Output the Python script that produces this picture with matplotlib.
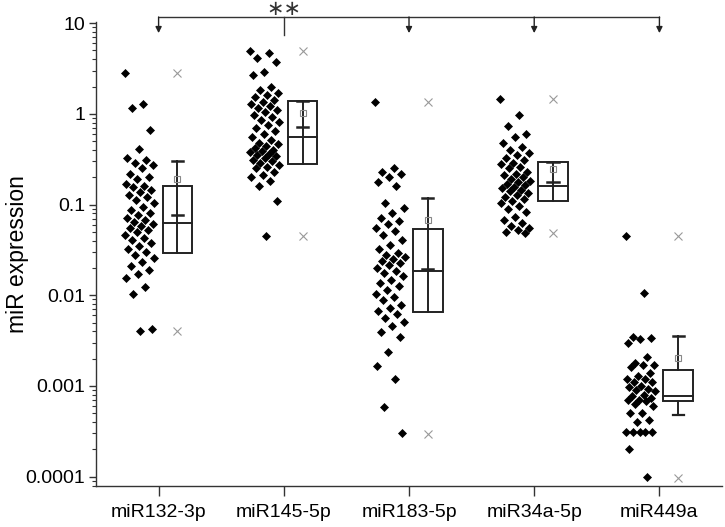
import numpy as np
import matplotlib
matplotlib.use('Agg')
import matplotlib.pyplot as plt
import matplotlib.transforms as mtransforms
from matplotlib.patches import Rectangle
from matplotlib.ticker import FixedLocator, LogLocator, NullFormatter

plt.rcParams['font.family'] = ['Liberation Sans', 'DejaVu Sans']

"""data"""
groups = ['miR132-3p', 'miR145-5p', 'miR183-5p', 'miR34a-5p', 'miR449a']

mir132 = [2.8, 1.28, 1.16, 0.66, 0.41, 0.33, 0.31, 0.29, 0.27, 0.25, 0.22, 0.20,
          0.19, 0.17, 0.16, 0.156, 0.145, 0.138, 0.128, 0.121, 0.112, 0.104, 0.094,
          0.087, 0.081, 0.077, 0.071, 0.068, 0.064, 0.061, 0.058, 0.055, 0.052, 0.050,
          0.046, 0.043, 0.041, 0.038, 0.035, 0.032, 0.030, 0.028, 0.026, 0.023, 0.021,
          0.019, 0.017, 0.0156, 0.0124, 0.0104, 0.0042, 0.0040]
mir145 = [4.9, 4.7, 4.1, 3.7, 2.9, 2.7, 1.97, 1.83, 1.69, 1.61, 1.53, 1.42, 1.35,
          1.28, 1.22, 1.16, 1.10, 1.05, 0.97, 0.92, 0.855, 0.81, 0.75, 0.70, 0.65,
          0.60, 0.555, 0.51, 0.48, 0.47, 0.44, 0.42, 0.40, 0.39, 0.38, 0.36, 0.35,
          0.34, 0.33, 0.31, 0.30, 0.29, 0.27, 0.26, 0.25, 0.23, 0.21, 0.20, 0.18,
          0.16, 0.11, 0.045]
mir183 = [1.35, 0.25, 0.23, 0.217, 0.20, 0.177, 0.16, 0.104, 0.092, 0.081, 0.071,
          0.066, 0.061, 0.055, 0.051, 0.046, 0.041, 0.036, 0.032, 0.029, 0.028,
          0.0265, 0.025, 0.024, 0.0228, 0.0216, 0.020, 0.0186, 0.0177, 0.0164,
          0.0148, 0.0137, 0.0127, 0.0115, 0.0104, 0.0096, 0.0089, 0.0078, 0.0073,
          0.0067, 0.0062, 0.0056, 0.0051, 0.0046, 0.0039, 0.0035, 0.0024, 0.00167,
          0.0012, 0.00059, 0.0003]
mir34a = [1.46, 0.97, 0.73, 0.60, 0.555, 0.48, 0.43, 0.40, 0.37, 0.35, 0.33, 0.31,
          0.29, 0.28, 0.26, 0.25, 0.23, 0.22, 0.21, 0.20, 0.19, 0.18, 0.177, 0.169,
          0.164, 0.156, 0.152, 0.145, 0.141, 0.134, 0.128, 0.121, 0.115, 0.110,
          0.104, 0.097, 0.090, 0.083, 0.073, 0.068, 0.063, 0.058, 0.055, 0.052,
          0.050, 0.049]
mir449a = [0.045, 0.0106, 0.0035, 0.0034, 0.0033, 0.0030, 0.0021, 0.0018, 0.0017,
           0.0017, 0.0016, 0.0014, 0.0013, 0.0012, 0.0012, 0.0011, 0.0011, 0.0010,
           0.00097, 0.00093, 0.00090, 0.00087, 0.00080, 0.00077, 0.00073, 0.00070,
           0.00070, 0.00068, 0.00063, 0.00060, 0.00051, 0.00051, 0.00042, 0.00040,
           0.00031, 0.00031, 0.00031, 0.00031, 0.00031, 0.00020, 0.0001]
points = [mir132, mir145, mir183, mir34a, mir449a]

# box statistics
box_q1 = [0.0293, 0.280, 0.00656, 0.110, 0.000687]
box_med = [0.0626, 0.555, 0.0186, 0.160, 0.000785]
box_q3 = [0.160, 1.38, 0.0538, 0.294, 0.00151]
whisk_hi = [0.302, 1.38, 0.118, 0.294, 0.00357]
whisk_lo = [0.0293, 0.280, 0.00656, 0.110, 0.000482]
inner_cap = [0.0767, 0.716, 0.0195, 0.177, np.nan]
means = [0.191, 1.02, 0.0676, 0.247, 0.00205]
mins = [0.00405, 0.0451, 0.000298, 0.0487, 0.0000975]
maxs = [2.81, 4.92, 1.35, 1.46, 0.0451]

yticks = [10, 1, 0.1, 0.01, 0.001, 0.0001]
ytick_labels = ['10', '1', '0.1', '0.01', '0.001', '0.0001']

"""figure"""
fig = plt.figure(figsize=(7.25, 5.27), dpi=100)
ax = fig.add_axes([0.1324, 0.0778, 0.8635, 0.8805])
ax.set_yscale('log')
ax.set_xlim(-0.5, 4.5)
ax.set_ylim(7.9e-5, 10.3)

dark = '#222222'
scat_off = -0.15
box_off = 0.15
box_w = 0.235
cap_hw = 0.045

for i, vals in enumerate(points):
    # beeswarm-ish spread, golden ratio sequence
    n = len(vals)
    frac = (np.arange(n) * 0.618034) % 1.0
    xs = i + scat_off + (frac - 0.5) * 0.24
    ax.plot(xs, vals, 'D', ms=3.8, color='black', mec='black', mew=0.5, zorder=3)

    xb = i + box_off
    ax.add_patch(Rectangle((xb - box_w / 2, box_q1[i]), box_w, box_q3[i] - box_q1[i],
                           fill=False, ec=dark, lw=1.4, zorder=2))
    ax.plot([xb - box_w / 2, xb + box_w / 2], [box_med[i]] * 2, color=dark, lw=1.4)

    if np.isnan(inner_cap[i]):
        ax.plot([xb, xb], [whisk_lo[i], box_q1[i]], color=dark, lw=1.4)
        ax.plot([xb, xb], [box_q3[i], whisk_hi[i]], color=dark, lw=1.4)
        ax.plot([xb - cap_hw, xb + cap_hw], [whisk_lo[i]] * 2, color=dark, lw=1.6)
    else:
        ax.plot([xb, xb], [box_q1[i], whisk_hi[i]], color=dark, lw=1.4)
        ax.plot([xb - cap_hw, xb + cap_hw], [inner_cap[i]] * 2, color=dark, lw=1.8)
    ax.plot([xb - cap_hw, xb + cap_hw], [whisk_hi[i]] * 2, color=dark, lw=1.8)

    ax.plot(xb, means[i], 's', ms=4.5, mfc='none', mec='#888888', mew=0.8)
    ax.plot([xb, xb], [mins[i], maxs[i]], 'x', ls='none', ms=5.5,
            color='#999999', mew=0.8)

"""axes styling"""
for s in ['top', 'right']:
    ax.spines[s].set_visible(False)
for s in ['left', 'bottom']:
    ax.spines[s].set_color('#333333')
    ax.spines[s].set_linewidth(1.0)

ax.set_xticks(range(len(groups)))
ax.set_xticklabels(groups, fontsize=14)
ax.yaxis.set_major_locator(FixedLocator(yticks))
ax.set_yticklabels(ytick_labels, fontsize=14)
ax.yaxis.set_minor_locator(LogLocator(base=10, subs=np.arange(2, 10)))
ax.yaxis.set_minor_formatter(NullFormatter())
ax.tick_params(axis='x', direction='out', length=7, width=1, color='#333333', pad=6)
ax.tick_params(axis='y', which='major', direction='out', length=5, width=1, color='#333333', pad=3)
ax.tick_params(axis='y', which='minor', direction='out', length=3, width=0.8, color='#333333')

fig.text(17.5 / 725, 0.518, 'miR expression', rotation=90, ha='center', va='center',
         fontsize=16.5)

"""significance bracket"""
trans = mtransforms.blended_transform_factory(ax.transData, ax.transAxes)
y_line = 1.0108
ax.plot([0, 4], [y_line, y_line], color='#333333', lw=1.0, transform=trans, clip_on=False)
ax.plot([1, 1], [y_line, 0.972], color='#333333', lw=1.0, transform=trans, clip_on=False)
for xa in [0, 2, 3, 4]:
    ax.annotate('', xy=(xa, 0.976), xytext=(xa, y_line), xycoords=trans, textcoords=trans,
                arrowprops=dict(arrowstyle='-|>', color='#222222', lw=1.0,
                                mutation_scale=9, shrinkA=0, shrinkB=0),
                annotation_clip=False)
ax.text(1, 1.028, '\u2217\u2217', transform=trans, ha='center', va='center',
        fontsize=15, color='#333333', family=['DejaVu Sans'])

fig.savefig('out.png', dpi=100)
